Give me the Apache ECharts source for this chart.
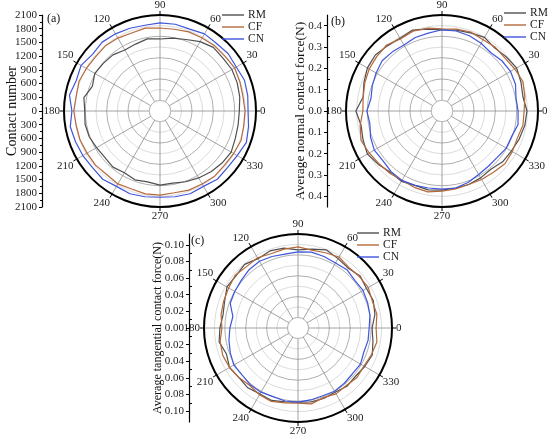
<!DOCTYPE html>
<html>
<head>
<meta charset="utf-8">
<script src="https://cdn.jsdelivr.net/npm/echarts@6/dist/echarts.min.js"></script>
<style>html,body{margin:0;padding:0;background:#fff;}#c{width:550px;height:436px;}</style>
</head>
<body>
<div id="c"></div>
<script>
const ANGLES = [0,10,20,30,40,50,60,70,80,90,100,110,120,130,140,150,160,170,180,190,200,210,220,230,240,250,260,270,280,290,300,310,320,330,340,350];
const SERIES_NAMES = ['RM','CF','CN'];

// (a) Contact number
const RM_A = [1690,1730,1760,1780,1760,1780,1710,1610,1560,1510,1540,1490,1470,1540,1560,1590,1510,1640,1590,1610,1590,1540,1510,1540,1490,1540,1510,1560,1540,1590,1640,1690,1730,1760,1710,1690];
const CF_A = [1830,1810,1830,1860,1830,1830,1810,1810,1780,1780,1810,1780,1810,1830,1810,1830,1860,1830,1860,1830,1830,1810,1810,1780,1810,1780,1810,1810,1780,1810,1810,1830,1810,1830,1860,1830];
const CN_A = [1905,1930,1950,1905,1930,1905,1930,1880,1905,1905,1880,1905,1930,1950,1905,1980,1930,2000,1905,1980,1950,1930,1905,1930,1880,1905,1880,1860,1880,1905,1880,1930,1905,1930,2000,1950];

// (b) Average normal contact force (N)
const RM_B = [0.392,0.377,0.387,0.398,0.387,0.377,0.392,0.382,0.377,0.372,0.382,0.398,0.387,0.392,0.403,0.398,0.382,0.366,0.398,0.377,0.387,0.398,0.382,0.366,0.372,0.361,0.366,0.361,0.356,0.356,0.351,0.345,0.361,0.366,0.377,0.387];
const CF_B = [0.377,0.387,0.398,0.387,0.377,0.382,0.377,0.387,0.382,0.377,0.387,0.392,0.382,0.398,0.392,0.387,0.377,0.366,0.361,0.382,0.398,0.387,0.377,0.372,0.366,0.372,0.377,0.366,0.361,0.356,0.361,0.366,0.377,0.372,0.366,0.377];
const CN_B = [0.345,0.340,0.356,0.361,0.356,0.345,0.356,0.366,0.372,0.372,0.361,0.356,0.345,0.351,0.356,0.345,0.335,0.324,0.340,0.330,0.345,0.356,0.351,0.361,0.366,0.361,0.356,0.356,0.356,0.345,0.330,0.324,0.324,0.335,0.335,0.351];

// (c) Average tangential contact force (N)
const RM_C = [0.0861,0.0915,0.0942,0.0928,0.0955,0.0915,0.0942,0.0982,0.0942,0.0915,0.0955,0.0968,0.0942,0.0982,0.0955,0.0968,0.0915,0.0888,0.0915,0.0942,0.0888,0.0928,0.0901,0.0915,0.0888,0.0901,0.0874,0.0861,0.0874,0.0874,0.0861,0.0888,0.0874,0.0901,0.0928,0.0888];
const CF_C = [0.0915,0.0942,0.0928,0.0955,0.0942,0.0928,0.0968,0.0942,0.0928,0.0955,0.0942,0.0928,0.0955,0.0942,0.0968,0.0942,0.0928,0.0915,0.0888,0.0928,0.0942,0.0928,0.0901,0.0874,0.0901,0.0915,0.0888,0.0874,0.0901,0.0861,0.0888,0.0874,0.0901,0.0888,0.0915,0.0942];
const CN_C = [0.0821,0.0847,0.0861,0.0874,0.0861,0.0888,0.0874,0.0888,0.0901,0.0888,0.0874,0.0888,0.0901,0.0888,0.0861,0.0847,0.0834,0.0753,0.0780,0.0807,0.0834,0.0861,0.0847,0.0861,0.0861,0.0847,0.0861,0.0861,0.0847,0.0834,0.0847,0.0834,0.0821,0.0834,0.0807,0.0821];

// axis ticks
const A_MAX = 2100, A_STEP = 300;
const B_MAX = 0.45;
const B_TICKS = [-0.4,-0.3,-0.2,-0.1,0,0.1,0.2,0.3,0.4];
const B_MINOR = [-0.35,-0.25,-0.15,-0.05,0.05,0.15,0.25,0.35];
const C_MAX = 0.113;
const C_TICKS = [-0.10,-0.08,-0.06,-0.04,-0.02,0,0.02,0.04,0.06,0.08,0.10];
const C_MINOR = [-0.09,-0.07,-0.05,-0.03,-0.01,0.01,0.03,0.05,0.07,0.09];
const AXIS_NAMES = ['Contact number','Average normal contact force(N)','Average tangential contact force(N)'];
const PANEL_LABELS = ['(a)','(b)','(c)'];

const COLORS = {RM:'#4f4f4f', CF:'#b5693a', CN:'#3f55dc'};
const FONT = "'Liberation Serif','DejaVu Serif',serif";

const chart = echarts.init(document.getElementById('c'), null, {renderer:'canvas'});

const polars = [
  {center:[160,111], radius:96},
  {center:[442,111], radius:96},
  {center:[298,328], radius:94}
];
const rMax = [A_MAX, B_MAX, C_MAX];

const angleAxis = polars.map((p,i)=>({
  polarIndex:i, type:'value', min:0, max:360, interval:30, startAngle:0, clockwise:false,
  axisLine:{lineStyle:{color:'#000', width:2}},
  axisTick:{show:true, length:4, lineStyle:{color:'#000', width:1}},
  axisLabel:{fontFamily:FONT, fontSize:11, color:'#222', margin:4, formatter:v=> v>=360?'':String(v)},
  splitLine:{show:true, lineStyle:{color:'#8c8c8c', width:0.8}}
}));
// radial axis starts one step below zero so the centre keeps a small hole
const radiusAxis = polars.map((p,i)=>({
  polarIndex:i, type:'value', min:-rMax[i]/8, max:rMax[i], interval:rMax[i]/8,
  axisLine:{show:false}, axisTick:{show:false}, axisLabel:{show:false},
  splitLine:{show:true, lineStyle:{color:['#d2d2d2','#9a9a9a'], width:0.8}}
}));

const grids = [
  {left:42, top:15, width:1, height:192},
  {left:327, top:15, width:1, height:192},
  {left:189, top:234, width:1, height:188}
];
const xAxis = grids.map((g,i)=>({gridIndex:i, type:'value', show:false}));
const nameStyle = [
  {size:14, gap:23},
  {size:13.5, gap:20},
  {size:12, gap:25}
];
const yAxis = [
  {gridIndex:0, type:'value', min:-A_MAX, max:A_MAX, interval:A_STEP,
   axisLine:{show:true, lineStyle:{color:'#000', width:1.2}},
   axisTick:{show:true, length:3, lineStyle:{color:'#000'}},
   minorTick:{show:true, splitNumber:2, length:2, lineStyle:{color:'#000'}},
   splitLine:{show:false},
   axisLabel:{fontFamily:FONT, fontSize:11, color:'#222', margin:5, formatter:v=>String(Math.abs(Math.round(v)))},
   name:AXIS_NAMES[0], nameLocation:'middle', nameGap:nameStyle[0].gap, nameMoveOverlap:false,
   nameTextStyle:{fontFamily:FONT, fontSize:nameStyle[0].size, color:'#111'}},
  {gridIndex:1, type:'value', min:-B_MAX, max:B_MAX,
   axisLine:{show:true, lineStyle:{color:'#000', width:1.2}},
   axisTick:{show:true, length:3, customValues:B_TICKS, lineStyle:{color:'#000'}},
   splitLine:{show:false},
   axisLabel:{customValues:B_TICKS, fontFamily:FONT, fontSize:11, color:'#222', margin:5, formatter:v=>Math.abs(v).toFixed(1)},
   name:AXIS_NAMES[1], nameLocation:'middle', nameGap:nameStyle[1].gap, nameMoveOverlap:false,
   nameTextStyle:{fontFamily:FONT, fontSize:nameStyle[1].size, color:'#111'}},
  {gridIndex:1, type:'value', min:-B_MAX, max:B_MAX,
   axisLine:{show:false}, splitLine:{show:false},
   axisTick:{show:true, length:2, customValues:B_MINOR, lineStyle:{color:'#000'}},
   axisLabel:{show:true, customValues:[], formatter:()=>''}},
  {gridIndex:2, type:'value', min:-C_MAX, max:C_MAX,
   axisLine:{show:true, lineStyle:{color:'#000', width:1.2}},
   axisTick:{show:true, length:3, customValues:C_TICKS, lineStyle:{color:'#000'}},
   splitLine:{show:false},
   axisLabel:{customValues:C_TICKS, fontFamily:FONT, fontSize:11, color:'#222', margin:5, formatter:v=>Math.abs(v).toFixed(2)},
   name:AXIS_NAMES[2], nameLocation:'middle', nameGap:nameStyle[2].gap, nameMoveOverlap:false,
   nameTextStyle:{fontFamily:FONT, fontSize:nameStyle[2].size, color:'#111'}},
  {gridIndex:2, type:'value', min:-C_MAX, max:C_MAX,
   axisLine:{show:false}, splitLine:{show:false},
   axisTick:{show:true, length:2, customValues:C_MINOR, lineStyle:{color:'#000'}},
   axisLabel:{show:true, customValues:[], formatter:()=>''}}
];

const panelData = [[RM_A,CF_A,CN_A],[RM_B,CF_B,CN_B],[RM_C,CF_C,CN_C]];
const series = [];
panelData.forEach((arrs,pi)=>{
  arrs.forEach((arr,si)=>{
    const name = SERIES_NAMES[si];
    const pts = ANGLES.map((a,k)=>[arr[k], a]);
    pts.push([arr[0], 360]);
    series.push({
      name, type:'line', coordinateSystem:'polar', polarIndex:pi,
      data:pts, symbol:'none', smooth:false, z:3+si,
      lineStyle:{color:COLORS[name], width:1.2},
      itemStyle:{color:COLORS[name]}
    });
  });
});

const legendPos = [{left:222, top:9},{left:504, top:7},{left:357, top:227}];
const legend = legendPos.map(p=>({
  left:p.left, top:p.top, orient:'vertical', data:SERIES_NAMES,
  icon:'rect', itemWidth:22, itemHeight:1.4, itemGap:0, padding:0,
  textStyle:{fontFamily:FONT, fontSize:11.5, lineHeight:12, height:12, color:'#222', padding:[0,0,0,-1]}
}));

const titlePos = [{left:47, top:13},{left:331, top:16},{left:191, top:235}];
const title = titlePos.map((p,i)=>({
  text:PANEL_LABELS[i], left:p.left, top:p.top, padding:0,
  textStyle:{fontFamily:FONT, fontSize:12, fontWeight:'normal', color:'#111'}
}));

// white hole at each polar centre (frame decoration)
const graphic = polars.map(p=>({
  type:'circle', shape:{cx:p.center[0], cy:p.center[1], r:p.radius/9}, z:2,
  style:{fill:'#fff', stroke:'#b0b0b0', lineWidth:0.8}
}));

chart.setOption({
  animation:false,
  backgroundColor:'#fff',
  title, legend, polar:polars, angleAxis, radiusAxis,
  grid:grids, xAxis, yAxis, series, graphic
});
</script>
</body>
</html>
